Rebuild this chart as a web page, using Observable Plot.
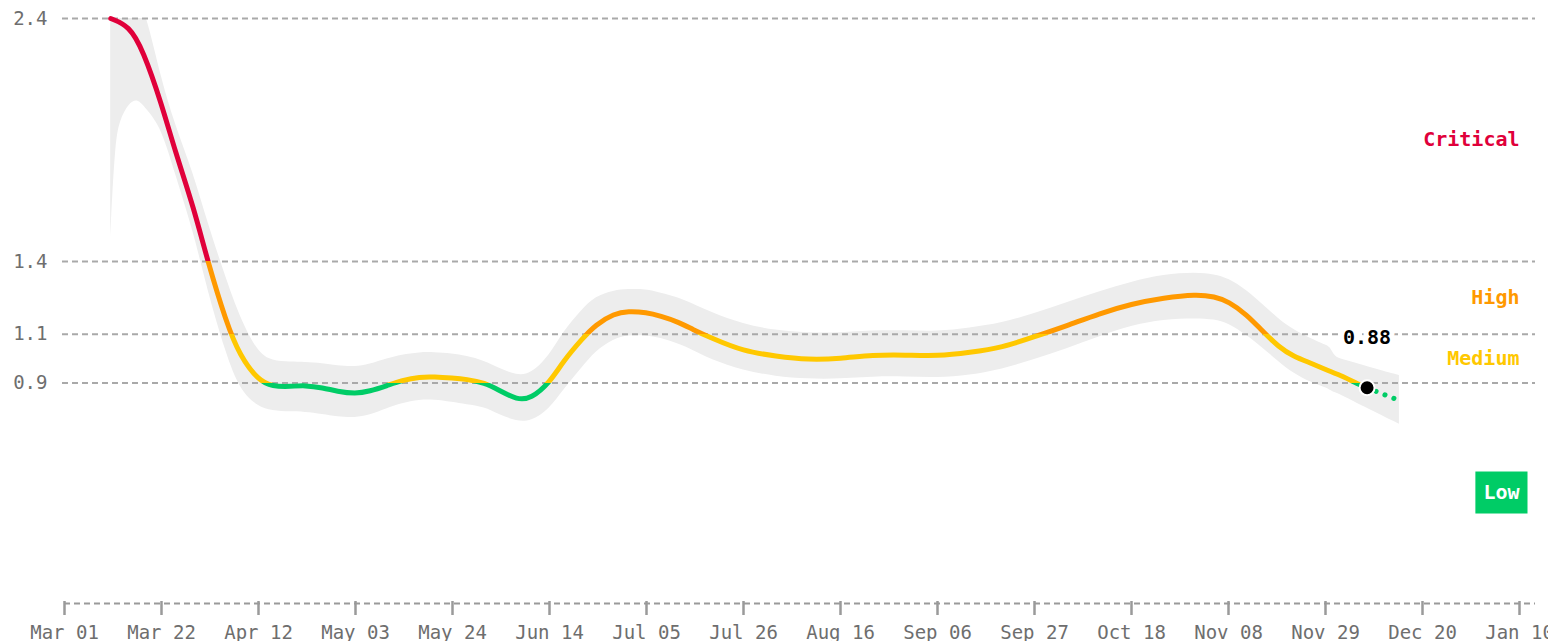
<!DOCTYPE html>
<html><head><meta charset="utf-8">
<script src="https://cdn.jsdelivr.net/npm/d3@7"></script>
<script src="https://cdn.jsdelivr.net/npm/@observablehq/plot@0.6"></script>
<style>
html,body{margin:0;padding:0;background:#fff;overflow:hidden}
#chart svg{display:block}
g[aria-label^="x-axis"] text, g[aria-label^="y-axis"] text {fill:#6e6e6e}
g[aria-label^="x-axis"] line, g[aria-label^="x-axis"] path {stroke:#9a9a9a; stroke-width:2.5}
</style></head><body><div id="chart"></div>
<script>
// Effective reproduction number (Rt) estimate
const rDates = ["2020-03-11","2020-03-15","2020-03-18","2020-03-22","2020-03-25","2020-03-29","2020-04-01","2020-04-05","2020-04-08","2020-04-12","2020-04-15","2020-04-19","2020-04-22","2020-04-26","2020-04-29","2020-05-03","2020-05-06","2020-05-10","2020-05-13","2020-05-17","2020-05-20","2020-05-24","2020-05-27","2020-05-31","2020-06-03","2020-06-07","2020-06-10","2020-06-14","2020-06-17","2020-06-21","2020-06-24","2020-06-28","2020-07-01","2020-07-05","2020-07-08","2020-07-12","2020-07-15","2020-07-19","2020-07-26","2020-08-02","2020-08-09","2020-08-16","2020-08-23","2020-08-30","2020-09-06","2020-09-13","2020-09-20","2020-09-27","2020-10-04","2020-10-11","2020-10-18","2020-10-25","2020-11-01","2020-11-05","2020-11-08","2020-11-12","2020-11-15","2020-11-19","2020-11-22","2020-11-26","2020-11-29","2020-12-03","2020-12-06","2020-12-08"];
const rValues = [2.40,2.37,2.27,2.05,1.85,1.62,1.40,1.15,1.01,0.91,0.885,0.885,0.89,0.88,0.865,0.855,0.865,0.89,0.91,0.925,0.925,0.92,0.915,0.90,0.87,0.83,0.835,0.90,0.99,1.08,1.14,1.185,1.195,1.19,1.175,1.15,1.12,1.085,1.03,1.01,0.995,1.00,1.015,1.015,1.01,1.025,1.045,1.09,1.135,1.185,1.225,1.25,1.265,1.255,1.235,1.18,1.12,1.045,1.01,0.98,0.955,0.925,0.895,0.88];

// Credible interval band
const bandDates = ["2020-03-11","2020-03-12","2020-03-13","2020-03-15","2020-03-17","2020-03-19","2020-03-22","2020-03-25","2020-03-29","2020-04-01","2020-04-05","2020-04-08","2020-04-12","2020-04-15","2020-04-19","2020-04-22","2020-04-26","2020-04-29","2020-05-03","2020-05-06","2020-05-10","2020-05-13","2020-05-17","2020-05-20","2020-05-24","2020-05-27","2020-05-31","2020-06-03","2020-06-07","2020-06-10","2020-06-14","2020-06-17","2020-06-21","2020-06-24","2020-06-28","2020-07-01","2020-07-05","2020-07-08","2020-07-12","2020-07-15","2020-07-19","2020-07-26","2020-08-02","2020-08-09","2020-08-16","2020-08-23","2020-08-30","2020-09-06","2020-09-13","2020-09-20","2020-09-27","2020-10-04","2020-10-11","2020-10-18","2020-10-25","2020-11-01","2020-11-05","2020-11-08","2020-11-12","2020-11-15","2020-11-19","2020-11-22","2020-11-26","2020-11-29","2020-11-30","2020-12-01","2020-12-03","2020-12-08","2020-12-15"];
const bandLower = [1.50,1.88,1.98,2.05,2.07,2.02,1.95,1.76,1.52,1.28,1.02,0.87,0.80,0.785,0.78,0.78,0.77,0.76,0.755,0.765,0.795,0.815,0.83,0.83,0.82,0.81,0.80,0.77,0.74,0.74,0.79,0.87,0.96,1.03,1.08,1.095,1.095,1.085,1.06,1.035,0.995,0.95,0.925,0.915,0.915,0.925,0.925,0.92,0.93,0.955,0.995,1.04,1.09,1.135,1.16,1.165,1.16,1.145,1.095,1.05,0.985,0.94,0.90,0.88,0.87,0.86,0.845,0.795,0.73];
const bandUpper = [2.50,2.50,2.50,2.50,2.48,2.40,2.15,1.96,1.76,1.56,1.33,1.17,1.02,0.99,0.985,0.985,0.98,0.97,0.965,0.975,1.00,1.015,1.025,1.025,1.02,1.01,0.99,0.96,0.93,0.935,1.01,1.11,1.20,1.255,1.28,1.285,1.285,1.27,1.25,1.225,1.19,1.14,1.115,1.105,1.105,1.115,1.115,1.11,1.125,1.145,1.185,1.23,1.275,1.315,1.345,1.355,1.345,1.33,1.28,1.23,1.16,1.12,1.08,1.055,1.05,1.005,0.995,0.967,0.93];

// Short projection
const projDates = ["2020-12-08","2020-12-15"];
const projValues = [0.88, 0.827];

// Risk zones
const thresholds = [0.9, 1.1, 1.4, 2.4];
const zoneNames = ["Low","Medium","High","Critical"];
const zoneLower = [0, 0.9, 1.1, 1.4];
const zoneUpper = [0.9, 1.1, 1.4, 2.4];
const zoneColors = ["#00cc66","#ffc800","#ff9900","#e0003a"];

// X tick labels (every 3 weeks)
const xTicks = ["2020-03-01","2020-03-22","2020-04-12","2020-05-03","2020-05-24","2020-06-14","2020-07-05","2020-07-26","2020-08-16","2020-09-06","2020-09-27","2020-10-18","2020-11-08","2020-11-29","2020-12-20","2021-01-10"];
const xDomain = ["2020-03-01","2021-01-10"];

const series = rDates.map((d,i)=>({date:new Date(d), r:rValues[i]}));
const band = bandDates.map((d,i)=>({date:new Date(d), lo:bandLower[i], hi:bandUpper[i]}));
const proj = projDates.map((d,i)=>({date:new Date(d), r:projValues[i]}));
const last = series[series.length-1];
const xEnd = new Date(xDomain[1]);

const FONT = "'DejaVu Sans Mono', monospace";
const LABEL_SIZE = 20;
const grid = {stroke:"#a9a9a9", strokeWidth:2, strokeDasharray:"6,4"};

const zoneMarks = zoneNames.map((name,i)=>Plot.text([name], {
  x: () => xEnd,
  y: () => (zoneLower[i]+zoneUpper[i])/2,
  text: d => d,
  textAnchor: "end",
  fill: name === "Low" ? "#ffffff" : zoneColors[i],
  fontWeight: "bold",
  fontSize: LABEL_SIZE,
  fontFamily: FONT
}));

const chart = Plot.plot({
  width: 1548,
  height: 641,
  marginLeft: 64,
  marginRight: 29,
  marginTop: 18,
  marginBottom: 40,
  style: {fontFamily: FONT, fontSize: "19px", background: "#fff", overflow: "visible"},
  x: {type:"utc", domain: xDomain.map(d=>new Date(d)), ticks: xTicks.map(d=>new Date(d)), tickFormat: d3.utcFormat("%b %d"), tickSize: 14, tickPadding: 10, label: null},
  y: {domain:[0,2.4], ticks: thresholds, tickFormat: d=>d.toFixed(1), tickSize: 0, tickPadding: 17, label: null},
  marks: [
    Plot.areaY(band, {x:"date", y1:"lo", y2:"hi", fill:"#ededed", curve:"basis", clip:true}),
    Plot.ruleY(thresholds, {...grid, insetLeft:-2, insetRight:-16}),
    Plot.ruleY([0], {...grid, stroke:"#9a9a9a", dy:2, insetRight:-16}),
    Plot.line(series, {x:"date", y:"r", stroke:"url(#riskGradient)", strokeWidth:5, curve:"basis", strokeLinecap:"round", strokeLinejoin:"round"}),
    Plot.line(proj, {x:"date", y:"r", stroke:"#00cc66", strokeWidth:5, strokeDasharray:"0.1,9.5", strokeLinecap:"round"}),
    Plot.dot([last], {x:"date", y:"r", r:7.5, fill:"#000", stroke:"#fff", strokeWidth:2}),
    Plot.text([last], {x:"date", y:"r", text:d=>d.r.toFixed(2), dy:-50, fill:"#000", stroke:"#fff", strokeWidth:10, fontWeight:"bold", fontSize:LABEL_SIZE, fontFamily:FONT}),
    ...zoneMarks
  ]
});

document.getElementById("chart").appendChild(chart);
const svg = chart.tagName.toLowerCase() === "svg" ? chart : chart.querySelector("svg");
const ys = chart.scale("y");
const yTop = ys.apply(2.4), yBot = ys.apply(0);
const off = v => (ys.apply(v) - yTop) / (yBot - yTop);
const stops = [
  [0, zoneColors[3]], [off(1.4), zoneColors[3]],
  [off(1.4), zoneColors[2]], [off(1.1), zoneColors[2]],
  [off(1.1), zoneColors[1]], [off(0.9), zoneColors[1]],
  [off(0.9), zoneColors[0]], [1, zoneColors[0]]
];
const NS = "http://www.w3.org/2000/svg";
const defs = document.createElementNS(NS, "defs");
const grad = document.createElementNS(NS, "linearGradient");
grad.setAttribute("id","riskGradient");
grad.setAttribute("gradientUnits","userSpaceOnUse");
grad.setAttribute("x1",0); grad.setAttribute("x2",0);
grad.setAttribute("y1",yTop); grad.setAttribute("y2",yBot);
for (const [o,c] of stops) {
  const s = document.createElementNS(NS,"stop");
  s.setAttribute("offset", o); s.setAttribute("stop-color", c);
  grad.appendChild(s);
}
defs.appendChild(grad);
svg.insertBefore(defs, svg.firstChild);

// Green box behind the "Low" label (sized from the text's measured width)
const ctx = document.createElement("canvas").getContext("2d");
ctx.font = `bold ${LABEL_SIZE}px 'DejaVu Sans Mono', monospace`;
for (const t of svg.querySelectorAll("text")) {
  if (t.textContent === "Low") {
    const w = ctx.measureText("Low").width;
    const tx = parseFloat(t.getAttribute("x")) || 0;
    const ty = parseFloat(t.getAttribute("y")) || 0;
    const rect = document.createElementNS(NS, "rect");
    if (t.getAttribute("transform")) rect.setAttribute("transform", t.getAttribute("transform"));
    rect.setAttribute("x", tx - w - 8);
    rect.setAttribute("y", ty - 21);
    rect.setAttribute("width", w + 16);
    rect.setAttribute("height", 42);
    rect.setAttribute("fill", zoneColors[0]);
    t.parentNode.insertBefore(rect, t);
  }
}
</script>
</body></html>
